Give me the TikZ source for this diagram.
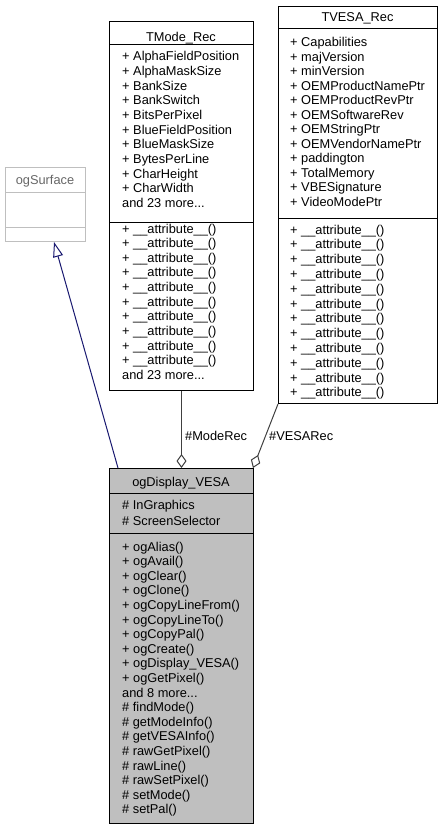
\documentclass[tikz,border=0pt]{standalone}
\usepackage{fontspec}
\setmainfont{Liberation Sans}
\usetikzlibrary{arrows.meta}
\definecolor{grey75}{HTML}{BFBFBF}
\definecolor{grey40}{HTML}{666666}
\definecolor{grey25}{HTML}{404040}
\definecolor{mblue}{HTML}{191970}
\begin{document}
\begin{tikzpicture}[x=1pt,y=-1pt,font=\fontsize{12.8}{14}\selectfont,
  box/.style={draw=black,line width=1pt,anchor=north west,inner sep=0pt,rectangle},
  txt/.style={anchor=base west,inner sep=0pt},
  ttl/.style={anchor=base,inner sep=0pt},
  divider/.style={line width=1pt},
  compo/.style={grey25,line width=1pt,{Diamond[open,length=14pt,width=10pt]}-},
  inherit/.style={mblue,line width=1pt,-{Triangle[open,length=15pt,width=10pt]}}]
\useasboundingbox (0,0) rectangle (443,829);

% ogSurface
\node[box,draw=grey75,minimum width=80pt,minimum height=74pt] (surf) at (5,167) {};
\draw[divider,grey75] (5,192) -- (85,192);
\draw[divider,grey75] (5,227) -- (85,227);
\node[ttl,text=grey40] (surft) at (45,184) {ogSurface};

% TMode_Rec
\node[box,fill=white,minimum width=144pt,minimum height=369pt] (tmode) at (109,21) {};
\draw[divider] (109,45) -- (253,45);
\draw[divider] (109,222) -- (253,222);
\node[ttl] (tmodet) at (181,41.5) {TMode\_Rec};
\foreach \t [count=\i from 0] in {+ AlphaFieldPosition,+ AlphaMaskSize,+ BankSize,+ BankSwitch,+ BitsPerPixel,+ BlueFieldPosition,+ BlueMaskSize,+ BytesPerLine,+ CharHeight,+ CharWidth}
  \node[txt] (tma\i) at (122,61+14.65*\i) {\t};
\node[txt] (tma10) at (122,61+14.65*10) {and 23 more...};
\foreach \i in {0,1,2,3,4,5,6,7,8,9}
  \node[txt] (tmm\i) at (122,233+14.65*\i) {+ \_\_attribute\_\_()};
\node[txt] (tmm10) at (122,233+14.65*10) {and 23 more...};

% TVESA_Rec
\node[box,fill=white,minimum width=159pt,minimum height=397pt] (tvesa) at (278,6) {};
\draw[divider] (278,29) -- (437,29);
\draw[divider] (278,218) -- (437,218);
\node[ttl] (tvesat) at (357.5,22) {TVESA\_Rec};
\foreach \t [count=\i from 0] in {+ Capabilities,+ majVersion,+ minVersion,+ OEMProductNamePtr,+ OEMProductRevPtr,+ OEMSoftwareRev,+ OEMStringPtr,+ OEMVendorNamePtr,+ paddington,+ TotalMemory,+ VBESignature,+ VideoModePtr}
  \node[txt] (tva\i) at (290,47+14.5*\i) {\t};
\foreach \i in {0,1,2,3,4,5,6,7,8,9,10,11}
  \node[txt] (tvm\i) at (290,234+14.8*\i) {+ \_\_attribute\_\_()};

% ogDisplay_VESA
\node[box,fill=grey75,minimum width=144pt,minimum height=355pt] (disp) at (109,468) {};
\draw[divider] (109,493) -- (253,493);
\draw[divider] (109,533) -- (253,533);
\node[ttl] (dispt) at (181,486) {ogDisplay\_VESA};
\node[txt] (da0) at (122,509) {\# InGraphics};
\node[txt] (da1) at (122,525) {\# ScreenSelector};
\foreach \t [count=\i from 0] in {+ ogAlias(),+ ogAvail(),+ ogClear(),+ ogClone(),+ ogCopyLineFrom(),+ ogCopyLineTo(),+ ogCopyPal(),+ ogCreate(),+ ogDisplay\_VESA(),+ ogGetPixel()}
  \node[txt] (dm\i) at (122,551+14.6*\i) {\t};
\node[txt] (dm10) at (122,551+14.6*10) {and 8 more...};
\foreach \t [count=\i from 11] in {\# findMode(),\# getModeInfo(),\# getVESAInfo(),\# rawGetPixel(),\# rawLine(),\# rawSetPixel(),\# setMode(),\# setPal()}
  \node[txt] (dm\i) at (122,551+14.6*\i) {\t};

% connectors
\draw[inherit] ([xshift=9pt]disp.north west) -- ([xshift=49pt]surf.south west);
\draw[compo] (disp.north) -- (tmode.south);
\draw[compo] ([xshift=-1pt]disp.north east) -- (tvesa.south west);
\node[txt] (lmode) at (185,440) {\#ModeRec};
\node[txt] (lvesa) at (269,440) {\#VESARec};
\end{tikzpicture}
\end{document}
